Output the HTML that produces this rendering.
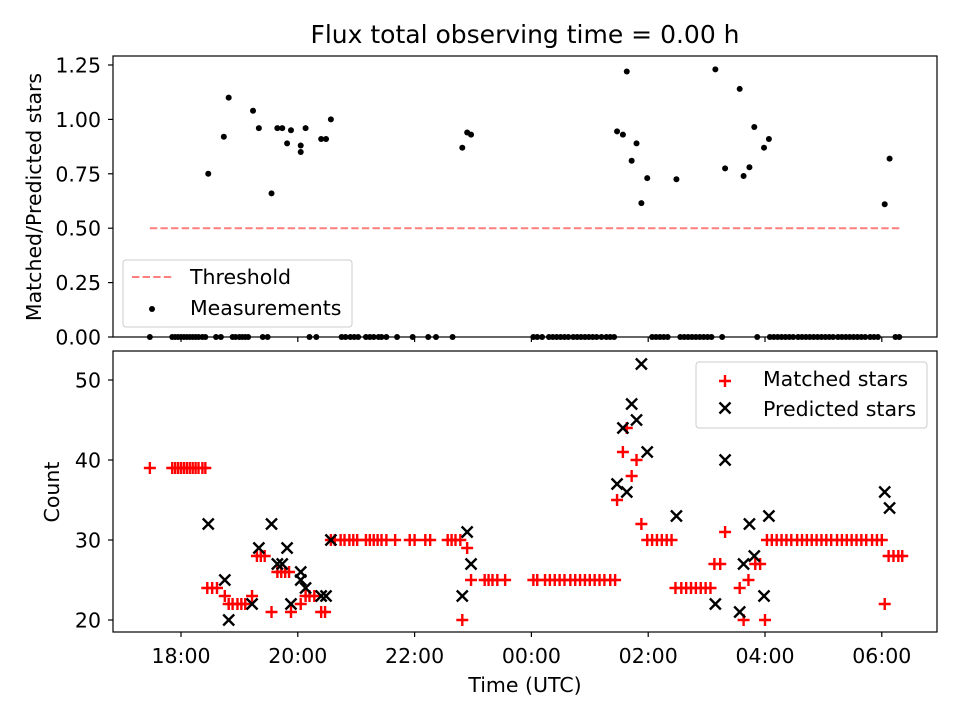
<!DOCTYPE html>
<html><head><meta charset="utf-8"><style>
body{margin:0;background:#fff}
svg{display:block;font-family:"DejaVu Sans","Liberation Sans",sans-serif}
</style></head><body>
<svg id="chart" width="960" height="720" style="position:absolute;left:0;top:0">
<rect width="960" height="720" fill="#fff"/>
<text x="525" y="43" font-size="25" text-anchor="middle">Flux total observing time = 0.00 h</text>
<g id="topg"></g><g id="botg"></g>
<text x="0" y="0" transform="translate(41,197) rotate(-90)" font-size="20.5" text-anchor="middle">Matched/Predicted stars</text>
<text x="0" y="0" transform="translate(59,492) rotate(-90)" font-size="20.5" text-anchor="middle">Count</text>
<text x="525" y="692" font-size="20.5" text-anchor="middle">Time (UTC)</text>
<g>
<rect x="123" y="260" width="229" height="67" rx="3" fill="#fff" fill-opacity="0.8" stroke="#ccc"/>
<line x1="132" y1="277" x2="173" y2="277" stroke="#ff7f7f" stroke-width="2" stroke-dasharray="7.4,3.2"/>
<text x="190" y="284" font-size="20.5">Threshold</text>
<circle cx="152" cy="309" r="3" fill="#000"/>
<text x="190" y="315" font-size="20.5">Measurements</text>
</g>
<g>
<rect x="696" y="362" width="231" height="66" rx="3" fill="#fff" fill-opacity="0.8" stroke="#ccc"/>
<path d="M719,381H731M725,375V387" stroke="#f00" stroke-width="2.4"/>
<text x="763" y="386" font-size="20.5">Matched stars</text>
<path d="M719.5,402.5L730.5,413.5M719.5,413.5L730.5,402.5" stroke="#000" stroke-width="2.4"/>
<text x="763" y="416" font-size="20.5">Predicted stars</text>
</g>
</svg>
<script>
// times in minutes since 18:00 UTC
const ratioT=[28,44,49,74,80,93,99,104,109,113,123,123,128,144,149,154,289,294,298,448,454,458,463,468,473,479,509,549,559,574,578,584,589,599,604,723,728];
const ratioV=[0.75,0.92,1.10,1.04,0.96,0.66,0.96,0.96,0.89,0.95,0.88,0.85,0.96,0.91,0.91,1.00,0.87,0.94,0.93,0.945,0.93,1.22,0.81,0.89,0.615,0.73,0.725,1.23,0.775,1.14,0.74,0.78,0.965,0.87,0.91,0.61,0.82];
const zeroT=[-32,-9,-6,-3,0,3,6,9,12,15,18,22,25,36,41,53,56,60,63,66,69,84,89,132,139,165,169,174,178,182,190,194,198,203,206,211,222,238,254,262,279,362,366,371,378,382,386,390,394,398,403,407,411,415,419,423,427,432,437,441,445,484,488,492,496,500,513,517,521,525,529,533,537,541,545,556,592,605,609,613,617,621,625,629,634,638,642,646,650,654,658,662,666,670,675,679,683,687,691,695,699,703,708,712,716,734,738];
const matchedT=[
-32,-9,-6,-3,0,3,6,9,12,15,18,22,25,
27,32,37,
45,49,53,58,62,66,73,93,
78,82,86,
99,103,107,111,
113,123,128,132,137,144,148,
154,158,164,168,173,177,181,190,194,198,202,206,211,220,235,240,251,256,274,278,282,287,
294,289,298,
312,316,320,325,333,
362,366,374,379,384,389,394,400,405,410,415,420,425,430,435,441,446,
448,454,458,468,463,473,
479,484,489,494,499,504,
508,514,519,524,529,534,539,544,
548,554,559,574,583,590,595,578,600,
602,607,612,617,622,627,633,638,643,648,653,658,663,668,674,679,684,689,694,699,704,710,715,720,
723,727,732,737,741];
const matchedV=[
39,39,39,39,39,39,39,39,39,39,39,39,39,
24,24,24,
23,22,22,22,22,22,23,21,
28,28,28,
26,26,26,26,
21,22,23,23,23,21,21,
30,30,30,30,30,30,30,30,30,30,30,30,30,30,30,30,30,30,30,30,30,30,
29,20,25,
25,25,25,25,25,
25,25,25,25,25,25,25,25,25,25,25,25,25,25,25,25,25,
35,41,44,40,38,32,
30,30,30,30,30,30,
24,24,24,24,24,24,24,24,
27,27,31,24,25,27,27,20,20,
30,30,30,30,30,30,30,30,30,30,30,30,30,30,30,30,30,30,30,30,30,30,30,30,
22,28,28,28,28];
const predT=[28,93,80,109,45,49,73,99,104,123,123,128,113,144,149,154,294,298,289,473,463,468,454,479,448,458,509,559,549,574,578,589,584,604,599,723,728];
const predV=[32,32,29,29,25,20,22,27,27,26,25,24,22,23,23,30,31,27,23,52,47,45,44,41,37,36,33,40,22,21,27,28,32,33,23,36,34];
const threshT=[-32,738], threshV=0.5;
const xTicks=[0,120,240,360,480,600,720];
const xLabels=["18:00","20:00","22:00","00:00","02:00","04:00","06:00"];
const topTicks=[0,0.25,0.5,0.75,1.0,1.25];
const botTicks=[20,30,40,50];

const NS="http://www.w3.org/2000/svg";
const L=113,R=937;
const X=m=>181+m*116.8/120;
const Ytop=v=>337-v*217.6;
const Ybot=v=>620-(v-20)*8;
function mk(p,tag,a){const e=document.createElementNS(NS,tag);for(const k in a)e.setAttribute(k,a[k]);p.appendChild(e);return e;}
const topG=document.getElementById('topg'), botG=document.getElementById('botg');

mk(topG,'rect',{x:L,y:56,width:R-L,height:281,fill:'#fff'});
const th=mk(topG,'line',{x1:X(threshT[0]),x2:X(threshT[1]),y1:Ytop(threshV),y2:Ytop(threshV),stroke:'#ff7f7f','stroke-width':2,'stroke-dasharray':'7.4,3.2'});


ratioT.forEach((t,i)=>{const c=mk(topG,'circle',{cx:X(t),cy:Ytop(ratioV[i]),r:3,fill:'#000'});

});
zeroT.forEach(t=>{const c=mk(topG,'circle',{cx:X(t),cy:Ytop(0),r:3,fill:'#000'});

});
mk(botG,'rect',{x:L,y:351,width:R-L,height:281,fill:'#fff'});
matchedT.forEach((t,i)=>{const x=X(t),y=Ybot(matchedV[i]);
const g=mk(botG,'path',{d:`M${x-6},${y}H${x+6}M${x},${y-6}V${y+6}`,stroke:'#f00','stroke-width':2.4});

});
predT.forEach((t,i)=>{const x=X(t),y=Ybot(predV[i]);
const g=mk(botG,'path',{d:`M${x-5.5},${y-5.5}L${x+5.5},${y+5.5}M${x-5.5},${y+5.5}L${x+5.5},${y-5.5}`,stroke:'#000','stroke-width':2.4});

});
mk(topG,'rect',{x:L,y:56,width:R-L,height:281,fill:'none',stroke:'#000','stroke-width':1.2});
mk(botG,'rect',{x:L,y:351,width:R-L,height:281,fill:'none',stroke:'#000','stroke-width':1.2});
xTicks.forEach((t,i)=>{const x=X(t);
mk(topG,'line',{x1:x,x2:x,y1:337,y2:342,stroke:'#000','stroke-width':1.2});
mk(botG,'line',{x1:x,x2:x,y1:632,y2:637,stroke:'#000','stroke-width':1.2});
const tx=mk(botG,'text',{x:x,y:663,'font-size':20.5,'text-anchor':'middle'});tx.textContent=xLabels[i];

});
topTicks.forEach(v=>{const y=Ytop(v);
mk(topG,'line',{x1:L-5,x2:L,y1:y,y2:y,stroke:'#000','stroke-width':1.2});
const tx=mk(topG,'text',{x:L-12,y:y+7.5,'font-size':20.5,'text-anchor':'end'});tx.textContent=v.toFixed(2);

});
botTicks.forEach(v=>{const y=Ybot(v);
mk(botG,'line',{x1:L-5,x2:L,y1:y,y2:y,stroke:'#000','stroke-width':1.2});
const tx=mk(botG,'text',{x:L-12,y:y+7.5,'font-size':20.5,'text-anchor':'end'});tx.textContent=v;

});
</script>
</body></html>
